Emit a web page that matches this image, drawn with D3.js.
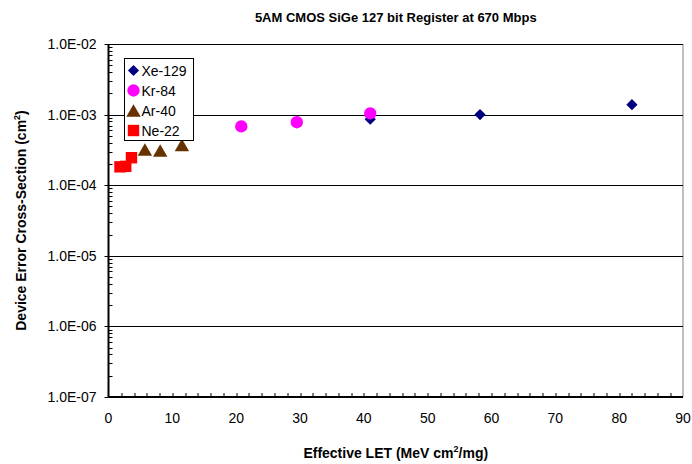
<!DOCTYPE html>
<html>
<head>
<meta charset="utf-8">
<title>5AM CMOS SiGe Register</title>
<script src="https://d3js.org/d3.v7.min.js"></script>
<style>
body { margin: 0; background: #fff; }
text { font-family: "Liberation Sans", Arial, sans-serif; }
</style>
</head>
<body>
<script>
// data
var seriesNames = ["Xe-129", "Kr-84", "Ar-40", "Ne-22"];
var xeLET = [41.0, 58.2, 82.0];
var xeSigma = [8.6e-4, 1.0e-3, 1.38e-3];
var krLET = [20.8, 29.5, 41.0];
var krSigma = [6.8e-4, 7.8e-4, 1.04e-3];
var arLET = [5.7, 8.1, 11.5];
var arSigma = [3.2e-4, 3.1e-4, 3.7e-4];
var neLET = [1.8, 2.7, 3.6];
var neSigma = [1.82e-4, 1.85e-4, 2.45e-4];
var yTicks = [1e-7, 1e-6, 1e-5, 1e-4, 1e-3, 1e-2];
var yTickLabels = ["1.0E-07", "1.0E-06", "1.0E-05", "1.0E-04", "1.0E-03", "1.0E-02"];

var W = 692, H = 464;
var margin = {top: 44, right: 9, bottom: 67, left: 108.5};
var width = W - margin.left - margin.right,
    height = H - margin.top - margin.bottom;

var svg = d3.select("body").append("svg")
    .attr("width", W)
    .attr("height", H);
var g = svg.append("g")
    .attr("transform", "translate(" + margin.left + "," + margin.top + ")");

var x = d3.scaleLinear().domain([0, 90]).range([0, width]);
var y = d3.scaleLog().domain([1e-7, 1e-2]).range([height, 0]);

// right border (grey)
g.append("line")
    .attr("x1", width).attr("x2", width)
    .attr("y1", 0).attr("y2", height)
    .attr("stroke", "#808080");

// gridlines
g.selectAll(".grid")
    .data(yTicks)
  .enter().append("line")
    .attr("x1", 0).attr("x2", width)
    .attr("y1", function(d) { return Math.round(y(d)) + 0.5; })
    .attr("y2", function(d) { return Math.round(y(d)) + 0.5; })
    .attr("stroke", "#000");

// minor log ticks on y
var minor = [];
for (var e = -7; e < -2; e++) {
  for (var m = 2; m <= 9; m++) minor.push(m * Math.pow(10, e));
}
g.selectAll(".ymin")
    .data(minor)
  .enter().append("line")
    .attr("x1", 0).attr("x2", 4)
    .attr("y1", function(d) { return Math.round(y(d)) + 0.5; })
    .attr("y2", function(d) { return Math.round(y(d)) + 0.5; })
    .attr("stroke", "#000");
g.selectAll(".ymaj")
    .data(yTicks)
  .enter().append("line")
    .attr("x1", -4).attr("x2", 0)
    .attr("y1", function(d) { return Math.round(y(d)) + 0.5; })
    .attr("y2", function(d) { return Math.round(y(d)) + 0.5; })
    .attr("stroke", "#000");

// y labels
g.selectAll(".ylab")
    .data(yTicks)
  .enter().append("text")
    .attr("x", -12)
    .attr("y", function(d) { return y(d) + 5; })
    .attr("text-anchor", "end")
    .attr("font-size", 14)
    .text(function(d, i) { return yTickLabels[i]; });

// x ticks every 2
g.selectAll(".xt")
    .data(d3.range(2, 90, 2))
  .enter().append("line")
    .attr("x1", function(d) { return Math.round(x(d)) + 0.5; })
    .attr("x2", function(d) { return Math.round(x(d)) + 0.5; })
    .attr("y1", height - 4).attr("y2", height)
    .attr("stroke", "#000");

g.selectAll(".xlab")
    .data(d3.range(0, 91, 10))
  .enter().append("text")
    .attr("x", function(d) { return x(d); })
    .attr("y", height + 26)
    .attr("text-anchor", "middle")
    .attr("font-size", 14)
    .text(function(d) { return d; });

// axes lines
g.append("line").attr("x1", 0).attr("x2", 0).attr("y1", 0).attr("y2", height)
    .attr("stroke", "#000").attr("stroke-width", 2);
g.append("line").attr("x1", 0).attr("x2", width).attr("y1", height).attr("y2", height)
    .attr("stroke", "#000").attr("stroke-width", 2);

// markers
var sym = {
  "Xe-129": d3.symbol().type(d3.symbolDiamond2).size(80),
  "Kr-84": d3.symbol().type(d3.symbolCircle).size(120),
  "Ar-40": d3.symbol().type(d3.symbolTriangle).size(90),
  "Ne-22": d3.symbol().type(d3.symbolSquare).size(130)
};
var dyOff = {"Xe-129": 0, "Kr-84": 0, "Ar-40": -2, "Ne-22": 0};
var colors = {"Xe-129": "#000080", "Kr-84": "#ff00ff", "Ar-40": "#663300", "Ne-22": "#ff0000"};
var series = [
  {name: "Ar-40", xs: arLET, ys: arSigma},
  {name: "Ne-22", xs: neLET, ys: neSigma},
  {name: "Xe-129", xs: xeLET, ys: xeSigma},
  {name: "Kr-84", xs: krLET, ys: krSigma}
];
series.forEach(function(s) {
  g.selectAll(null)
      .data(s.xs)
    .enter().append("path")
      .attr("d", sym[s.name])
      .attr("fill", colors[s.name])
      .attr("transform", function(d, i) {
        return "translate(" + x(d) + "," + (y(s.ys[i]) - dyOff[s.name]) + ")";
      });
});

// legend
var lg = svg.append("g").attr("transform", "translate(124.5,58.5)");
lg.append("rect").attr("width", 69).attr("height", 82)
    .attr("fill", "#fff").attr("stroke", "#000");
seriesNames.forEach(function(n, i) {
  lg.append("path").attr("d", sym[n])
      .attr("fill", colors[n])
      .attr("transform", "translate(9," + (12 - dyOff[n] + i * 20) + ")");
  lg.append("text").attr("x", 17).attr("y", 17 + i * 20)
      .attr("font-size", 14).text(n);
});

// titles
svg.append("text")
    .attr("x", margin.left + width / 2).attr("y", 22)
    .attr("text-anchor", "middle").attr("font-size", 13).attr("font-weight", "bold")
    .text("5AM CMOS SiGe 127 bit Register at 670 Mbps");

var xt = svg.append("text")
    .attr("x", margin.left + width / 2).attr("y", 458)
    .attr("text-anchor", "middle").attr("font-size", 14).attr("font-weight", "bold");
xt.append("tspan").text("Effective LET (MeV cm");
xt.append("tspan").attr("font-size", 9).attr("dy", -6).text("2");
xt.append("tspan").attr("dy", 6).text("/mg)");

var yt = svg.append("text")
    .attr("transform", "translate(26," + (margin.top + height / 2) + ") rotate(-90)")
    .attr("text-anchor", "middle").attr("font-size", 14).attr("font-weight", "bold");
yt.append("tspan").text("Device Error Cross-Section (cm");
yt.append("tspan").attr("font-size", 9).attr("dy", -6).text("2");
yt.append("tspan").attr("dy", 6).text(")");
</script>
</body>
</html>
